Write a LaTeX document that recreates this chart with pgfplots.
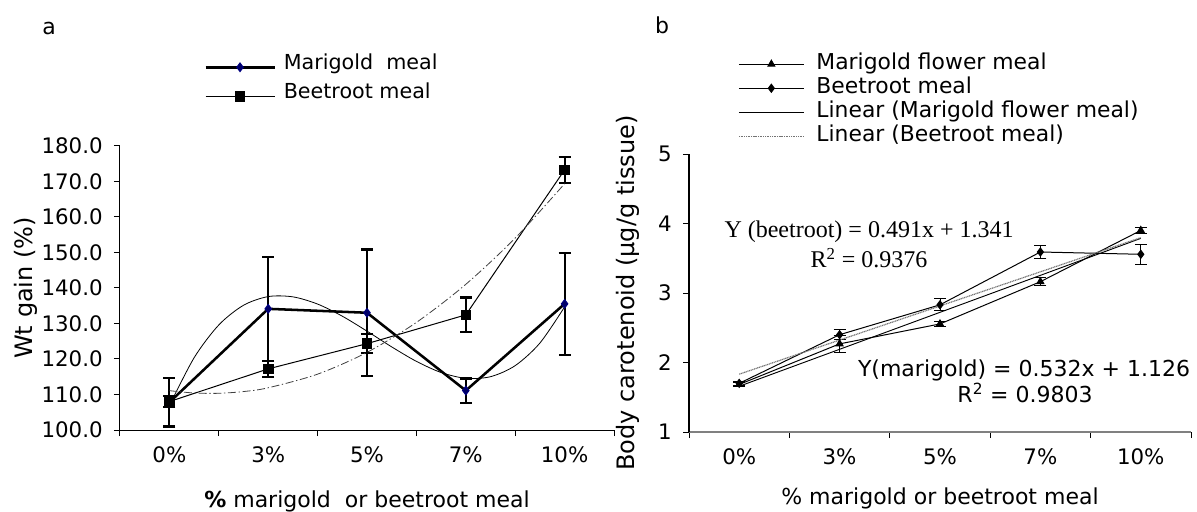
\documentclass[border=0pt]{standalone}
\usepackage{fontspec}
\setmainfont{DejaVu Sans}
\newfontfamily\timesfont{Liberation Serif}
\usepackage{pgfplots}
\usepackage{pgfplotstable}
\pgfplotsset{compat=1.18}

\newcommand\ticksize{\fontsize{16pt}{19pt}\selectfont}
\newcommand\xlabsize{\fontsize{16.5pt}{19pt}\selectfont}
\newcommand\ylabsize{\fontsize{18pt}{21pt}\selectfont}
\newcommand\legasize{\fontsize{15.5pt}{18pt}\selectfont}
\newcommand\legbsize{\fontsize{16.4pt}{19pt}\selectfont}
\newcommand\eqsize{\fontsize{16.5pt}{19pt}\selectfont}
\newcommand\eqtsize{\fontsize{18pt}{21pt}\selectfont}

\pgfplotstableread{
x y e
0 107.8 6.8
1 134.1 14.6
2 133.0 17.8
3 111.1 3.4
4 135.5 14.4
}\marA
\pgfplotstableread{
x y e
0 108.0 1.5
1 117.2 2.2
2 124.3 2.6
3 132.4 4.9
4 173.2 3.7
}\beeA
\pgfplotstableread{
x y
0.00 106.84
0.25 120.33
0.50 129.56
0.75 135.10
1.00 137.55
1.25 137.47
1.50 135.44
1.75 132.03
2.00 127.82
2.25 123.39
2.50 119.32
2.75 116.18
3.00 114.55
3.25 115.00
3.50 118.12
3.75 124.47
4.00 134.64
}\marTrend
\pgfplotstableread{
x y
0.00 111.07
0.25 110.41
0.50 110.33
0.75 110.82
1.00 111.88
1.50 115.72
2.00 121.85
2.50 130.28
3.00 141.00
3.50 154.01
4.00 169.31
}\beeTrend
\pgfplotstableread{
x y e
0 1.684 0.03
1 2.268 0.12
2 2.555 0.03
3 3.163 0.06
4 3.900 0.045
}\marB
\pgfplotstableread{
x y e
0 1.700 0.03
1 2.400 0.07
2 2.830 0.085
3 3.590 0.10
4 3.557 0.14
}\beeB
\pgfplotstableread{
x y
0 1.658
4 3.786
}\marLin
\pgfplotstableread{
x y
0 1.832
4 3.796
}\beeLin

\pgfplotsset{
 myaxis/.style={
  scale only axis, anchor=south west,
  axis x line=bottom, axis y line=left,
  axis line style={-},
  tick align=outside,
  xmin=-0.5, xmax=4.5,
  xtick={0,1,2,3,4}, xticklabels={0\%,3\%,5\%,7\%,10\%},
  minor xtick={-0.5,0.5,1.5,2.5,3.5,4.5},
  major x tick style={draw=none},
  tick style={black, line width=0.75pt},
  major tick length=4.5pt, minor tick length=4.5pt,
  ticklabel style={font=\ticksize},
  xticklabel style={yshift=-4.5pt},
  yticklabel style={xshift=-5pt},
  /pgf/number format/assume math mode=true,
  clip=false,
  legend cell align=left,
 }
}

\begin{document}
\begin{tikzpicture}
\useasboundingbox (0,0) rectangle (897.75pt,383.25pt);

% ---------- panel a ----------
\begin{axis}[myaxis,
  at={(90pt,60.75pt)}, width=370.5pt, height=213.2pt,
  ymin=100, ymax=180, ytick={100,110,...,180},
  yticklabel style={/pgf/number format/.cd, fixed, fixed zerofill, precision=1},
  axis line style={black, line width=0.75pt},
  xlabel={\textbf{\%} marigold\ \ or beetroot meal},
  ylabel={Wt gain (\%)},
  xlabel style={font=\xlabsize, at={(axis description cs:0.5,-0.252)}, anchor=center},
  ylabel style={font=\ylabsize, at={(axis description cs:-0.190,0.5)}, anchor=center, rotate=0},
  legend style={draw=none, fill=none, inner sep=0pt, font=\legasize,
    nodes={inner sep=0pt, text height=12.5pt, text depth=9.25pt},
    at={(axis description cs:0.170,1.328)}, anchor=north west,
    /tikz/every odd column/.append style={column sep=6pt}},
  legend image code/.code={\draw[mark repeat=2,mark phase=2,#1] plot coordinates {(0pt,0pt) (25.875pt,0pt) (51.75pt,0pt)};},
]
\addplot[black, line width=1.9pt, mark=diamond*, mark size=3.2pt,
  mark options={fill=blue!40!black, draw=blue!50!black, line width=0.8pt},
  error bars/.cd, y dir=both, y explicit, error mark=|,
  error bar style={black, line width=1.6pt},
  error mark options={black, line width=1.6pt, mark size=4.5pt}]
  table[x=x, y=y, y error=e] {\marA};
\addlegendentry{Marigold\ \ meal}
\addplot[black, line width=0.75pt, mark=square*, mark size=3.6pt,
  mark options={fill=black},
  error bars/.cd, y dir=both, y explicit, error mark=|,
  error bar style={black, line width=1.6pt},
  error mark options={black, line width=1.6pt, mark size=4.5pt}]
  table[x=x, y=y, y error=e] {\beeA};
\addlegendentry{Beetroot meal}
\addplot[black, line width=0.6pt, smooth, no marks, forget plot] table[x=x,y=y] {\marTrend};
\addplot[black!75, line width=0.6pt, smooth, no marks, forget plot,
  dash pattern=on 6pt off 2pt on 1pt off 2pt] table[x=x,y=y] {\beeTrend};
\end{axis}

% ---------- panel b ----------
\begin{axis}[myaxis,
  at={(516.75pt,59.25pt)}, width=376.5pt, height=208.5pt,
  ymin=1, ymax=5, ytick={1,2,3,4,5},
  x axis line style={draw=black!50, line width=1.1pt},
  y axis line style={draw=black, line width=1.5pt},
  xlabel={\% marigold or beetroot meal},
  ylabel={Body carotenoid (µg/g tissue)},
  xlabel style={font=\xlabsize, at={(axis description cs:0.5,-0.24)}, anchor=center},
  ylabel style={font=\ylabsize, at={(axis description cs:-0.1215,0.5)}, anchor=center, rotate=0},
  legend style={draw=none, fill=none, inner sep=0pt, font=\legbsize,
    nodes={inner sep=0pt, text height=13pt, text depth=5pt},
    at={(axis description cs:0.0976,1.367)}, anchor=north west,
    /tikz/every odd column/.append style={column sep=9pt}},
  legend image code/.code={\draw[mark repeat=2,mark phase=2,#1] plot coordinates {(0pt,0pt) (24.375pt,0pt) (48.75pt,0pt)};},
]
\addplot[black, line width=0.75pt, mark=triangle*, mark size=3pt,
  mark options={fill=black},
  error bars/.cd, y dir=both, y explicit, error mark=|,
  error bar style={black, line width=0.75pt},
  error mark options={black, line width=0.75pt, mark size=4.5pt}]
  table[x=x, y=y, y error=e] {\marB};
\addlegendentry{Marigold flower meal}
\addplot[black, line width=0.75pt, mark=diamond*, mark size=3pt,
  mark options={fill=black},
  error bars/.cd, y dir=both, y explicit, error mark=|,
  error bar style={black, line width=0.75pt},
  error mark options={black, line width=0.75pt, mark size=4.5pt}]
  table[x=x, y=y, y error=e] {\beeB};
\addlegendentry{Beetroot meal}
\addplot[black, line width=0.7pt, no marks] table[x=x,y=y] {\marLin};
\addlegendentry{Linear (Marigold flower meal)}
\addplot[black!55, line width=0.9pt, no marks, dash pattern=on 0.8pt off 0.5pt] table[x=x,y=y] {\beeLin};
\addlegendentry{Linear (Beetroot meal)}
\node[font=\timesfont\eqtsize, anchor=center] at (axis cs:1.293,3.878) {Y (beetroot) = 0.491x + 1.341};
\node[font=\timesfont\eqtsize, anchor=center] at (axis cs:1.293,3.504) {R\textsuperscript{2} = 0.9376};
\node[font=\eqsize, anchor=center] at (axis cs:2.837,1.892) {Y(marigold) = 0.532x + 1.126};
\node[font=\eqsize, anchor=center] at (axis cs:2.847,1.561) {R\textsuperscript{2} = 0.9803};
\end{axis}

\node[font=\eqsize] at (36.75pt,362.25pt) {a};
\node[font=\eqsize] at (496.5pt,364.5pt) {b};
\end{tikzpicture}
\end{document}
